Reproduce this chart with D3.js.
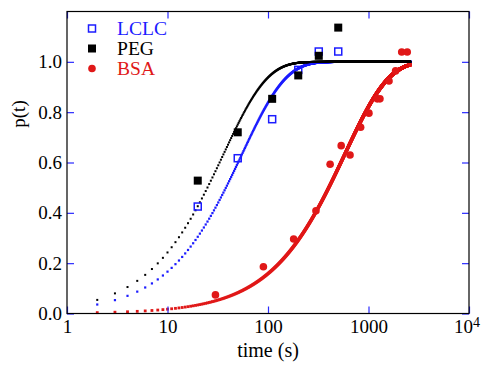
<!DOCTYPE html>
<html>
<head>
<meta charset="utf-8">
<script src="https://cdn.jsdelivr.net/npm/d3@7"></script>
<style>
  body { margin: 0; background: #fff; }
  text { font-family: "Liberation Serif", "Times New Roman", serif; }
</style>
</head>
<body>
<div id="c1"></div>
<script>
// Variables
var w = 482;
var h = 365;

// tick values
var xTicks = [1, 10, 100, 1000, 10000];
var yTicks = [0, 0.2, 0.4, 0.6, 0.8, 1.0];

// series names + colours
var seriesNames = ["LCLC", "PEG", "BSA"];
var seriesColors = ["#1c1cff", "#000000", "#e01818"];

var lclcT = [20, 50, 110, 200, 320, 500];
var lclcP = [0.425, 0.617, 0.772, 0.968, 1.041, 1.041];
var pegT = [20, 50, 110, 200, 320, 500];
var pegP = [0.528, 0.720, 0.853, 0.946, 1.024, 1.136];
var bsaT = [30, 90, 180, 300, 415, 535, 655, 835, 1010, 1220, 1300, 1600, 1860, 2140, 2430];
var bsaP = [0.074, 0.186, 0.296, 0.408, 0.593, 0.667, 0.630, 0.740, 0.796, 0.853, 0.853, 0.924, 0.964, 1.039, 1.039];

// fit p(t) = 1 - exp(-t/tau), sampled once per second
var fitTau = [55, 36, 580];
var fitStart = 2;
var fitEnd = 2600;

function draw() {
    var svg = d3.select("#c1").append("svg")
        .attr("width", w)
        .attr("height", h);

    var x = d3.scaleLog().domain([1, 10000]).range([67, 469]);
    var y = d3.scaleLinear().domain([0, 1.2]).range([313.5, 11.5]);

    // fit curves, drawn as small dots (blue under black)
    var order = [0, 1, 2];
    var sizes = [2.2, 2, 2.8];
    order.forEach(function (s) {
        var pts = d3.range(fitStart, fitEnd + 1).map(function (t) {
            return {t: t, p: 1 - Math.exp(-t / fitTau[s])};
        });
        svg.append("g").selectAll("rect")
            .data(pts)
            .enter()
            .append("rect")
            .attr("x", function (d) { return x(d.t) - sizes[s] / 2; })
            .attr("y", function (d) { return y(d.p) - sizes[s] / 2; })
            .attr("width", sizes[s])
            .attr("height", sizes[s])
            .attr("fill", seriesColors[s]);
    });

    // LCLC open squares
    svg.append("g").selectAll("rect")
        .data(lclcT)
        .enter()
        .append("rect")
        .attr("x", function (d) { return x(d) - 3.5; })
        .attr("y", function (d, i) { return y(lclcP[i]) - 3.5; })
        .attr("width", 7)
        .attr("height", 7)
        .attr("fill", "none")
        .attr("stroke", seriesColors[0])
        .attr("stroke-width", 1.5);

    // PEG filled squares
    svg.append("g").selectAll("rect")
        .data(pegT)
        .enter()
        .append("rect")
        .attr("x", function (d) { return x(d) - 4; })
        .attr("y", function (d, i) { return y(pegP[i]) - 4; })
        .attr("width", 8)
        .attr("height", 8)
        .attr("fill", seriesColors[1]);

    // BSA circles
    svg.append("g").selectAll("circle")
        .data(bsaT)
        .enter()
        .append("circle")
        .attr("cx", function (d) { return x(d); })
        .attr("cy", function (d, i) { return y(bsaP[i]); })
        .attr("r", 3.8)
        .attr("fill", seriesColors[2]);

    // axes - blue ticks pointing inward
    var bottom = svg.append("g")
        .attr("transform", "translate(0," + y(0) + ")")
        .call(d3.axisBottom(x).tickValues(xTicks).tickSizeInner(-7).tickSizeOuter(0).tickPadding(6)
            .tickFormat(function (d) { return d === 10000 ? "" : d3.format("d")(d); }));
    var top = svg.append("g")
        .attr("transform", "translate(0," + y(1.2) + ")")
        .call(d3.axisTop(x).tickValues(xTicks).tickSizeInner(-7).tickSizeOuter(0).tickFormat(""));
    var left = svg.append("g")
        .attr("transform", "translate(" + x(1) + ",0)")
        .call(d3.axisLeft(y).tickValues(yTicks).tickSizeInner(-7).tickSizeOuter(0).tickPadding(5)
            .tickFormat(d3.format(".1f")));
    var right = svg.append("g")
        .attr("transform", "translate(" + x(10000) + ",0)")
        .call(d3.axisRight(y).tickValues(yTicks).tickSizeInner(-7).tickSizeOuter(0).tickFormat(""));

    [bottom, top, left, right].forEach(function (g) {
        g.select(".domain").remove();
        g.selectAll(".tick line").attr("stroke", "#2a2aff").attr("stroke-width", 1.2);
        g.selectAll("text")
            .attr("font-family", "'Liberation Serif', serif")
            .attr("font-size", 19)
            .attr("fill", "#000");
    });

    // 10^4 label
    var sup = bottom.append("text")
        .attr("x", x(10000) - 15)
        .attr("y", 6)
        .attr("dy", "0.71em")
        .attr("text-anchor", "start")
        .attr("font-family", "'Liberation Serif', serif")
        .attr("font-size", 19)
        .attr("fill", "#000");
    sup.append("tspan").text("10");
    sup.append("tspan").attr("dy", "-0.4em").attr("font-size", 14).text("4");

    // frame
    svg.append("rect")
        .attr("x", x(1))
        .attr("y", y(1.2))
        .attr("width", x(10000) - x(1))
        .attr("height", y(0) - y(1.2))
        .attr("fill", "none")
        .attr("stroke", "#000")
        .attr("stroke-width", 1.2);

    // axis titles
    svg.append("text")
        .attr("x", (x(1) + x(10000)) / 2)
        .attr("y", 357)
        .attr("text-anchor", "middle")
        .attr("font-size", 20)
        .text("time (s)");
    svg.append("text")
        .attr("transform", "translate(25,114) rotate(-90)")
        .attr("text-anchor", "middle")
        .attr("font-size", 19)
        .text("p(t)");

    // legend
    var legendY = [28.5, 48.5, 68.5];
    var legendW = [50, 37, 38];
    var lg = svg.append("g");
    lg.append("rect").attr("x", 88.5).attr("y", legendY[0] - 3.5).attr("width", 7).attr("height", 7)
        .attr("fill", "none").attr("stroke", seriesColors[0]).attr("stroke-width", 1.5);
    lg.append("rect").attr("x", 88).attr("y", legendY[1] - 4).attr("width", 8).attr("height", 8)
        .attr("fill", seriesColors[1]);
    lg.append("circle").attr("cx", 92).attr("cy", legendY[2]).attr("r", 3.8)
        .attr("fill", seriesColors[2]);
    lg.selectAll("text")
        .data(seriesNames)
        .enter()
        .append("text")
        .attr("x", 117)
        .attr("y", function (d, i) { return legendY[i] + 6.3; })
        .attr("font-size", 18)
        .attr("textLength", function (d, i) { return legendW[i]; })
        .attr("lengthAdjust", "spacingAndGlyphs")
        .attr("fill", function (d, i) { return seriesColors[i]; })
        .text(function (d) { return d; });

    return svg;
}

draw();
</script>
</body>
</html>
